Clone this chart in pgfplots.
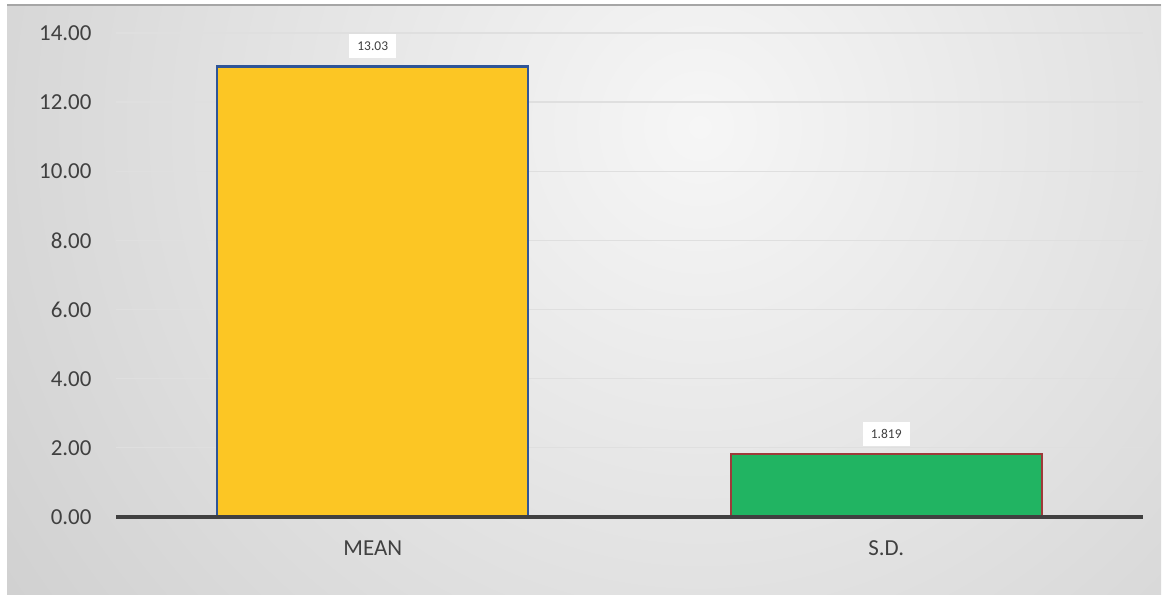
\documentclass[border=0pt]{standalone}
\usepackage{fontspec}
\setmainfont{Carlito}
\usepackage{pgfplots}
\pgfplotsset{compat=1.18}
\definecolor{barY}{HTML}{FCC624}
\definecolor{barYb}{HTML}{2F5597}
\definecolor{barG}{HTML}{21B462}
\definecolor{barGb}{HTML}{9E3A3A}
\definecolor{txt}{HTML}{404040}
\definecolor{bgin}{HTML}{F6F6F6}
\definecolor{bgout}{HTML}{BABABA}
\begin{document}
\begin{tikzpicture}[x=1bp,y=1bp]
\path[use as bounding box] (0,0) rectangle (1166,597);
\fill[white] (0,0) rectangle (1166,597);
\begin{scope}
\clip (7,2) rectangle (1161,592);
\shade[inner color=bgin, outer color=bgout] (700,470) circle (1350);
\end{scope}
\draw[gray!70, line width=1.5bp] (7,592) -- (1161,592);
\begin{axis}[
  at={(116bp,80bp)}, anchor=south west,
  scale only axis, width=1027bp, height=484bp,
  xmin=-0.5, xmax=1.5, ymin=0, ymax=14,
  ytick={0,2,...,14},
  yticklabels={0.00,2.00,4.00,6.00,8.00,10.00,12.00,14.00},
  xtick={0,1}, xticklabels={MEAN,S.D.},
  major tick length=0pt,
  axis line style={draw=none},
  ymajorgrids, grid style={color=gray!25, line width=1.3bp},
  ybar, bar width=311bp, bar shift=0pt,
  tick label style={font=\fontsize{23}{27}\selectfont, text=txt},
  yticklabel style={xshift=-21bp},
  xticklabel style={yshift=-20bp},
  nodes near coords, point meta=explicit symbolic,
  nodes near coords style={font=\fontsize{13.5}{16}\selectfont, fill=white, text=txt,
    inner xsep=8bp, inner ysep=0pt, minimum height=24bp, anchor=south, yshift=7bp},
  clip=false]
\addplot[fill=barY, draw=barYb, line width=2.2bp] coordinates {(0,13.03) [13.03]};
\addplot[fill=barG, draw=barGb, line width=2.2bp] coordinates {(1,1.819) [1.819]};
\draw[txt, line width=3.5bp] (axis cs:-0.5,0) -- (axis cs:1.5,0);
\end{axis}
\end{tikzpicture}
\end{document}
